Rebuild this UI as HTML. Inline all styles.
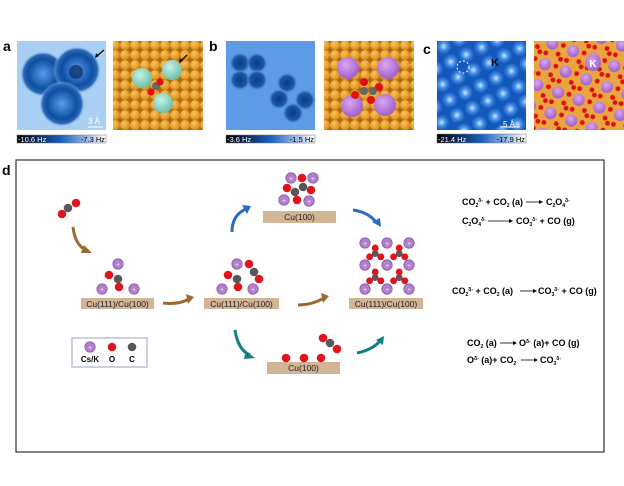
<!DOCTYPE html>
<html><head><meta charset="utf-8"><style>
body{margin:0;background:#fff;}
svg{display:block;font-family:"Liberation Sans",Arial,sans-serif;}
.lb{font-weight:bold;font-size:14px;}
.eq{font-weight:bold;font-size:9px;}
.bar{font-size:8.5px;fill:#222;}
</style></head><body>
<svg width="624" height="486" viewBox="0 0 624 486" xmlns="http://www.w3.org/2000/svg">
<defs>
<radialGradient id="cu" cx="40%" cy="35%" r="65%"><stop offset="0" stop-color="#fcc35a"/><stop offset="1" stop-color="#d98d1c"/></radialGradient>
<pattern id="cupat" width="10" height="10" patternUnits="userSpaceOnUse"><rect width="10" height="10" fill="#b06a10"/><circle cx="5" cy="5" r="5" fill="url(#cu)"/></pattern>
<radialGradient id="kk" cx="40%" cy="35%" r="65%"><stop offset="0" stop-color="#d9a6f0"/><stop offset="1" stop-color="#a25fc8"/></radialGradient>
<radialGradient id="mint" cx="40%" cy="35%" r="65%"><stop offset="0" stop-color="#c8f2e4"/><stop offset="1" stop-color="#6cc0a8"/></radialGradient>
<radialGradient id="ring" r="50%"><stop offset="0" stop-color="#5d9be0"/><stop offset="0.35" stop-color="#2f73c8"/><stop offset="0.65" stop-color="#0e4e9e"/><stop offset="0.85" stop-color="#2a68b8"/><stop offset="1" stop-color="#a9cff3" stop-opacity="0"/></radialGradient>
<radialGradient id="blob" r="50%"><stop offset="0" stop-color="#0f3a80"/><stop offset="0.65" stop-color="#1a58a8"/><stop offset="1" stop-color="#6aa3e6" stop-opacity="0"/></radialGradient>
<radialGradient id="bump" r="50%"><stop offset="0" stop-color="#cfe6ff"/><stop offset="0.5" stop-color="#3f8de6"/><stop offset="1" stop-color="#1558bb"/></radialGradient>
<pattern id="latt" width="17" height="17" patternUnits="userSpaceOnUse" patternTransform="rotate(-25)"><rect width="17" height="17" fill="#1558bb"/><circle cx="8.5" cy="8.5" r="8" fill="url(#bump)"/></pattern>
<linearGradient id="cb" x1="0" x2="1"><stop offset="0" stop-color="#000"/><stop offset="0.5" stop-color="#1a5fc0"/><stop offset="1" stop-color="#fff"/></linearGradient>
<pattern id="kpat" width="22" height="22" patternUnits="userSpaceOnUse" patternTransform="rotate(20)"><rect width="22" height="22" fill="#e8a540"/><circle cx="6" cy="6" r="6" fill="url(#kk)"/><circle cx="15" cy="14" r="2.4" fill="#e01010"/><circle cx="19" cy="18" r="2.4" fill="#e01010"/><circle cx="17" cy="4" r="2.4" fill="#e01010"/><circle cx="3" cy="17" r="2.4" fill="#e01010"/></pattern>
<g id="K"><circle r="5.2" fill="#b27fcc" stroke="#8a5aa8" stroke-width="0.8"/><text y="2.8" text-anchor="middle" font-size="7" fill="#eee">+</text></g>
<g id="O"><circle r="4.3" fill="#e0141e"/></g>
<g id="C"><circle r="4.3" fill="#585858"/></g>
<g id="CO3"><use href="#C"/><use href="#O" x="0" y="-7"/><use href="#O" x="-7" y="4"/><use href="#O" x="7" y="4"/></g>
</defs>

<text x="3" y="51" class="lb">a</text>
<text x="209" y="51" class="lb">b</text>
<text x="423" y="54" class="lb">c</text>
<text x="2" y="175" class="lb">d</text>

<rect x="17" y="41" width="89" height="89" fill="#a9cff3"/>
<circle cx="43" cy="74" r="23" fill="url(#ring)"/>
<circle cx="77" cy="70" r="24" fill="url(#ring)"/>
<circle cx="62" cy="104" r="23" fill="url(#ring)"/>
<circle cx="76" cy="72" r="7" fill="#0a2a60" opacity="0.7"/>
<path d="M104 50 L97 56" stroke="#111" stroke-width="1.3"/><path d="M95 58 L96 53 L99 56Z" fill="#111"/>
<text x="88" y="124" font-size="8" fill="#fff">3 Å</text><line x1="88" y1="127" x2="103" y2="127" stroke="#fff" stroke-width="1"/>
<rect x="17" y="135" width="89" height="8" fill="url(#cb)" stroke="#777" stroke-width="0.5"/>
<text x="18" y="142" font-size="7.5" fill="#fff">-10.6 Hz</text><text x="105" y="142" font-size="7.5" text-anchor="end" fill="#000">-7.3 Hz</text>

<rect x="113" y="41" width="90" height="89" fill="url(#cupat)"/>
<circle cx="142" cy="78" r="10" fill="url(#mint)"/>
<circle cx="172" cy="70" r="10" fill="url(#mint)"/>
<circle cx="163" cy="103" r="10" fill="url(#mint)"/>
<circle cx="156" cy="86" r="4" fill="#666"/><circle cx="151" cy="92" r="3.6" fill="#e01010"/><circle cx="160" cy="82" r="3.6" fill="#e01010"/>
<path d="M187 55 L181 61" stroke="#111" stroke-width="1.3"/><path d="M179 63 L180 58 L183 61Z" fill="#111"/>

<rect x="226" y="41" width="89" height="89" fill="#5d9be6"/>
<circle cx="240" cy="63" r="11" fill="url(#blob)"/><circle cx="257" cy="63" r="11" fill="url(#blob)"/>
<circle cx="240" cy="80" r="11" fill="url(#blob)"/><circle cx="257" cy="80" r="11" fill="url(#blob)"/>
<circle cx="287" cy="83" r="11" fill="url(#blob)"/><circle cx="305" cy="100" r="11" fill="url(#blob)"/>
<circle cx="279" cy="99" r="11" fill="url(#blob)"/><circle cx="293" cy="113" r="11" fill="url(#blob)"/>
<rect x="226" y="135" width="89" height="8" fill="url(#cb)" stroke="#777" stroke-width="0.5"/>
<text x="227" y="142" font-size="7.5" fill="#fff">-3.6 Hz</text><text x="314" y="142" font-size="7.5" text-anchor="end" fill="#000">-1.5 Hz</text>

<rect x="324" y="41" width="90" height="89" fill="url(#cupat)"/>
<circle cx="348" cy="68" r="11" fill="url(#kk)"/><circle cx="388" cy="68" r="11" fill="url(#kk)"/>
<circle cx="352" cy="106" r="11" fill="url(#kk)"/><circle cx="385" cy="105" r="11" fill="url(#kk)"/>
<circle cx="364" cy="82" r="4" fill="#e01010"/><circle cx="355" cy="95" r="4" fill="#e01010"/><circle cx="371" cy="100" r="4" fill="#e01010"/><circle cx="379" cy="87" r="4" fill="#e01010"/>
<circle cx="364" cy="91" r="4" fill="#666"/><circle cx="373" cy="91" r="4" fill="#666"/>

<rect x="437" y="41" width="89" height="89" fill="url(#latt)"/>
<circle cx="463" cy="67" r="6" fill="none" stroke="#fff" stroke-dasharray="2 2"/>
<text x="491" y="66" font-size="11" font-weight="bold" fill="#111">K</text>
<text x="503" y="127" font-size="8" fill="#fff">5 Å</text><line x1="500" y1="127" x2="520" y2="127" stroke="#fff"/>
<rect x="437" y="134" width="89" height="9" fill="url(#cb)" stroke="#777" stroke-width="0.5"/>
<text x="438" y="142" font-size="7.5" fill="#fff">-21.4 Hz</text><text x="525" y="142" font-size="7.5" text-anchor="end" fill="#000">-17.9 Hz</text>

<rect x="534" y="41" width="90" height="89" fill="url(#kpat)"/>
<circle cx="593" cy="63" r="8" fill="url(#kk)"/><text x="593" y="67" text-anchor="middle" font-size="10" font-weight="bold" fill="#fff">K</text>

<rect x="16" y="160" width="588" height="292" fill="none" stroke="#333" stroke-width="1.2"/>

<g fill="none" stroke-width="3">
<path d="M73 227 Q75 245 86 250" stroke="#9a6a33"/>
<path d="M163 303 Q178 305 189 299" stroke="#9a6a33"/>
<path d="M298 305 Q312 305 324 298" stroke="#9a6a33"/>
<path d="M232 232 Q232 215 246 209" stroke="#2a6bc4"/>
<path d="M353 210 Q368 212 376 222" stroke="#2a6bc4"/>
<path d="M235 330 Q238 350 250 355" stroke="#127f80"/>
<path d="M357 353 Q372 350 380 341" stroke="#127f80"/>
</g>
<g>
<path d="M84 245 L92 253 L81 253Z" fill="#9a6a33"/>
<path d="M186 294 L194 297 L188 304Z" fill="#9a6a33"/>
<path d="M321 293 L329 296 L323 303Z" fill="#9a6a33"/>
<path d="M242 205 L251 206 L247 214Z" fill="#2a6bc4"/>
<path d="M372 222 L381 227 L380 218Z" fill="#2a6bc4"/>
<path d="M246 351 L255 358 L244 359Z" fill="#127f80"/>
<path d="M376 340 L384 336 L383 345Z" fill="#127f80"/>
</g>

<use href="#O" x="62" y="214"/><use href="#C" x="68" y="208"/><use href="#O" x="76" y="203"/>

<g fill="#d2b496">
<rect x="81" y="298" width="73" height="11"/>
<rect x="204" y="298" width="75" height="11"/>
<rect x="263" y="211" width="73" height="12"/>
<rect x="349" y="298" width="74" height="11"/>
<rect x="267" y="362" width="73" height="12"/>
</g>
<g class="bar" text-anchor="middle">
<text x="117.5" y="307">Cu(111)/Cu(100)</text>
<text x="241.5" y="307">Cu(111)/Cu(100)</text>
<text x="299.5" y="220">Cu(100)</text>
<text x="386" y="307">Cu(111)/Cu(100)</text>
<text x="303.5" y="371">Cu(100)</text>
</g>

<use href="#K" x="118" y="264"/><use href="#O" x="109" y="275"/><use href="#C" x="118" y="279"/><use href="#O" x="119" y="287"/>
<use href="#K" x="102" y="289"/><use href="#K" x="134" y="289"/>

<use href="#K" x="237" y="264"/><use href="#O" x="249" y="264"/><use href="#C" x="254" y="272"/><use href="#O" x="259" y="279"/>
<use href="#O" x="228" y="275"/><use href="#C" x="237" y="279"/><use href="#O" x="238" y="287"/>
<use href="#K" x="222" y="289"/><use href="#K" x="253" y="289"/>

<use href="#K" x="291" y="178"/><use href="#O" x="302" y="178"/><use href="#K" x="313" y="178"/>
<use href="#O" x="287" y="188"/><use href="#C" x="303" y="187"/><use href="#O" x="311" y="190"/><use href="#C" x="295" y="192"/>
<use href="#K" x="284" y="200"/><use href="#O" x="297" y="200"/><use href="#K" x="309" y="201"/>

<use href="#K" x="365" y="243"/><use href="#K" x="387" y="243"/><use href="#K" x="409" y="243"/>
<use href="#K" x="365" y="265"/><use href="#K" x="387" y="265"/><use href="#K" x="409" y="265"/>
<use href="#K" x="365" y="289"/><use href="#K" x="387" y="289"/><use href="#K" x="409" y="289"/>
<g transform="scale(0.8)">
<use href="#CO3" x="469" y="317"/><use href="#CO3" x="499" y="317"/>
<use href="#CO3" x="469" y="347"/><use href="#CO3" x="499" y="347"/>
</g>

<use href="#O" x="286" y="358"/><use href="#O" x="304" y="358"/><use href="#O" x="321" y="358"/>
<use href="#O" x="323" y="338"/><use href="#C" x="330" y="343"/><use href="#O" x="337" y="349"/>

<rect x="72" y="338" width="75" height="29" fill="#fff" stroke="#b8c4d4" stroke-width="1.5"/>
<use href="#K" x="90" y="347"/><use href="#O" x="112" y="347"/><use href="#C" x="132" y="347"/>
<g font-size="8" font-weight="bold" text-anchor="middle"><text x="90" y="362">Cs/K</text><text x="112" y="362">O</text><text x="132" y="362">C</text></g>

<g class="eq">
<text x="462" y="205">CO<tspan font-size="5" dy="2">2</tspan><tspan font-size="5" dy="-5">δ-</tspan><tspan dy="3"> + CO</tspan><tspan font-size="5" dy="2">2</tspan><tspan dy="-2"> (a)</tspan></text>
<line x1="526" y1="202" x2="541" y2="202" stroke="#000" stroke-width="0.8"/><path d="M539 200 L543 202 L539 204Z"/>
<text x="546" y="205">C<tspan font-size="5" dy="2">2</tspan><tspan dy="-2">O</tspan><tspan font-size="5" dy="2">4</tspan><tspan font-size="5" dy="-5">δ-</tspan></text>
<text x="462" y="224">C<tspan font-size="5" dy="2">2</tspan><tspan dy="-2">O</tspan><tspan font-size="5" dy="2">4</tspan><tspan font-size="5" dy="-5">δ-</tspan></text>
<line x1="488" y1="221" x2="511" y2="221" stroke="#000" stroke-width="0.8"/><path d="M509 219 L513 221 L509 223Z"/>
<text x="516" y="224">CO<tspan font-size="5" dy="2">3</tspan><tspan font-size="5" dy="-5">δ-</tspan><tspan dy="3"> + CO (g)</tspan></text>

<text x="452" y="294">CO<tspan font-size="5" dy="2">2</tspan><tspan font-size="5" dy="-5">δ-</tspan><tspan dy="3"> + CO</tspan><tspan font-size="5" dy="2">2</tspan><tspan dy="-2"> (a)</tspan></text>
<line x1="520" y1="291" x2="535" y2="291" stroke="#000" stroke-width="0.8"/><path d="M533 289 L537 291 L533 293Z"/>
<text x="538" y="294">CO<tspan font-size="5" dy="2">3</tspan><tspan font-size="5" dy="-5">δ-</tspan><tspan dy="3"> + CO (g)</tspan></text>

<text x="467" y="346">CO<tspan font-size="5" dy="2">2</tspan><tspan dy="-2"> (a)</tspan></text>
<line x1="500" y1="343" x2="515" y2="343" stroke="#000" stroke-width="0.8"/><path d="M513 341 L517 343 L513 345Z"/>
<text x="519" y="346">O<tspan font-size="5" dy="-3">δ-</tspan><tspan dy="3"> (a)+ CO (g)</tspan></text>
<text x="467" y="363">O<tspan font-size="5" dy="-3">δ-</tspan><tspan dy="3"> (a)+ CO</tspan><tspan font-size="5" dy="2">2</tspan></text>
<line x1="521" y1="360" x2="536" y2="360" stroke="#000" stroke-width="0.8"/><path d="M534 358 L538 360 L534 362Z"/>
<text x="540" y="363">CO<tspan font-size="5" dy="2">3</tspan><tspan font-size="5" dy="-5">δ-</tspan></text>
</g>
</svg>
</body></html>
